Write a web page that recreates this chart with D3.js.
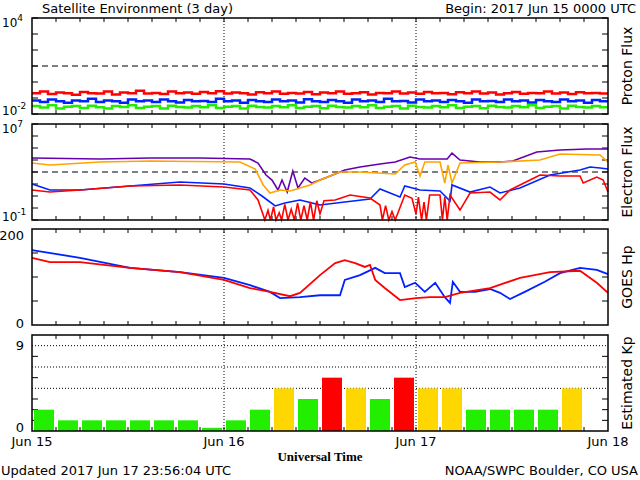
<!DOCTYPE html>
<html><head><meta charset="utf-8">
<script src="https://cdn.jsdelivr.net/npm/d3@7"></script>
<style>body{margin:0;background:#fff}text{font-family:"DejaVu Sans",sans-serif;font-size:13px}</style>
</head><body><svg id="c" width="640" height="480"></svg>
<script>
// proton flux, log10 values, one per hour
const protonRed   = [-0.7,-0.6,-0.75,-0.65,-0.7,-0.8,-0.62,-0.7,-0.72,-0.6,-0.78,-0.66,-0.7,-0.55,-0.72,-0.68,-0.75,-0.6,-0.7,-0.66,-0.74,-0.62,-0.7,-0.58,-0.72,-0.66,-0.7,-0.78,-0.64,-0.7,-0.6,-0.74,-0.68,-0.72,-0.62,-0.76,-0.66,-0.7,-0.6,-0.74,-0.7,-0.64,-0.78,-0.68,-0.7,-0.6,-0.72,-0.66,-0.74,-0.62,-0.7,-0.68,-0.76,-0.64,-0.7,-0.6,-0.72,-0.66,-0.78,-0.7,-0.62,-0.74,-0.68,-0.7,-0.6,-0.72,-0.66,-0.75,-0.64,-0.7,-0.68,-0.72];
const protonBlue  = [-1.15,-1.25,-1.1,-1.2,-1.3,-1.15,-1.2,-1.05,-1.25,-1.15,-1.2,-1.3,-1.1,-1.2,-1.15,-1.25,-1.1,-1.2,-1.28,-1.12,-1.2,-1.18,-1.25,-1.05,-1.2,-1.15,-1.3,-1.12,-1.2,-1.25,-1.1,-1.2,-1.15,-1.28,-1.08,-1.2,-1.25,-1.12,-1.2,-1.3,-1.1,-1.2,-1.15,-1.25,-1.05,-1.2,-1.18,-1.28,-1.1,-1.2,-1.15,-1.25,-1.12,-1.2,-1.3,-1.1,-1.2,-1.18,-1.25,-1.1,-1.2,-1.15,-1.28,-1.12,-1.2,-1.25,-1.1,-1.2,-1.15,-1.3,-1.12,-1.2];
const protonGreen = [-1.5,-1.6,-1.45,-1.65,-1.55,-1.5,-1.62,-1.48,-1.58,-1.66,-1.5,-1.56,-1.45,-1.62,-1.55,-1.5,-1.65,-1.48,-1.56,-1.6,-1.5,-1.58,-1.45,-1.62,-1.55,-1.5,-1.66,-1.48,-1.56,-1.6,-1.5,-1.58,-1.46,-1.62,-1.55,-1.5,-1.64,-1.48,-1.56,-1.6,-1.5,-1.58,-1.45,-1.62,-1.55,-1.5,-1.65,-1.48,-1.56,-1.6,-1.5,-1.58,-1.46,-1.62,-1.55,-1.5,-1.64,-1.48,-1.56,-1.6,-1.5,-1.58,-1.45,-1.62,-1.55,-1.5,-1.65,-1.48,-1.56,-1.6,-1.5,-1.58];

// electron flux, [hour, log10 flux]
const elecPurple = [[0,4.17],[8.5,4.08],[14.75,4.17],[21,4.17],[27.25,4.08],[28.25,3.75],[29.25,2.75],[30,2.33],[30.75,1.5],[31.25,2.33],[31.9,1.33],[32.6,3.08],[33.25,1.67],[34.1,2.5],[35,2.08],[36,2.33],[37.9,2.83],[39.1,3.17],[41,3.42],[43.5,3.67],[45.4,3.83],[47.25,4.25],[48.5,4.08],[51.9,4.08],[52.5,4.58],[53.5,4.0],[56,3.83],[58.5,3.83],[60.1,3.92],[63.1,4.67],[66,4.83],[69.4,4.92],[72,4.92]];
const elecOrange = [[0,3.75],[2.25,3.58],[8.5,3.83],[14.75,3.92],[26,3.83],[27.9,3.25],[28.9,1.92],[29.75,1.25],[31,1.5],[32.25,1.42],[33.5,1.67],[34.75,1.92],[36,2.33],[38.5,3.0],[41,3.0],[45.4,2.83],[46.6,3.58],[47.9,3.83],[48.5,2.67],[49.1,3.83],[51,3.83],[51.6,2.08],[52,3.58],[52.5,2.08],[53.5,3.75],[58.5,3.83],[63.5,4.0],[66,4.5],[71,4.42],[72,3.83]];
const elecBlue = [[0,2.0],[2.25,1.5],[6,1.5],[12.25,1.83],[18.5,2.17],[24,2.0],[27.25,1.67],[28.75,1.0],[30.4,0.17],[31.6,0.42],[33.5,0.67],[36,0.25],[39.1,0.5],[42.25,0.75],[43.5,1.58],[46,0.92],[46.6,1.83],[48.5,1.5],[51,1.42],[52.25,0.58],[52.5,1.92],[54.75,1.33],[57.25,1.75],[58.5,1.25],[61,1.67],[64.75,2.75],[68.5,3.17],[69.75,3.42],[71,3.33],[72,3.25]];
const elecRed = [[0,1.5],[2.25,1.33],[6,1.5],[12.25,1.83],[18.5,1.92],[24,1.75],[27.25,1.5],[28.25,0.67],[28.9,-0.58],[29.1,-1],[29.5,-0.2],[29.8,-1],[30.2,0.1],[30.5,-1],[30.9,-0.4],[31.2,-1],[31.6,0.3],[32,-1],[32.4,-0.1],[32.8,-1],[33.2,0.4],[33.6,-1],[34,0.2],[34.4,-1],[34.8,0.5],[35.2,-1],[35.6,0.6],[36,-0.5],[36.5,0.6],[37.9,0.67],[39.75,1.08],[42.25,0.83],[43.5,0.25],[43.8,-1],[44.2,0.2],[44.6,-1],[45,-0.3],[45.4,-1],[46.6,1.08],[47.5,0.8],[48,-0.5],[48.3,0.9],[48.7,-1],[49,0.5],[49.3,-1],[49.7,1.08],[51,1.08],[51.3,-1],[51.6,0.9],[51.9,-1],[52.25,1.08],[53.5,-0.17],[54.75,1.25],[57.25,1.33],[58.5,0.67],[59.75,1.5],[62.25,2.33],[63.5,2.75],[66,2.67],[68.5,2.67],[68.9,2.08],[70.6,2.58],[71.4,2.33],[72,1.33]];

// GOES Hp, [hour, nT]
const hpBlue = [[0,156],[6,140],[12.25,119],[18.5,110],[24,98],[27.25,83],[29.75,69],[31,56],[33.5,58],[36,62],[38.5,62],[39.1,94],[41,104],[42.9,119],[44.1,108],[46,108],[46.6,79],[47.9,88],[49.1,69],[50.4,88],[51.6,58],[52.25,46],[52.6,90],[53.5,69],[55.4,69],[57.25,75],[58.5,67],[59.75,54],[61.6,69],[64.1,90],[66,108],[68.5,119],[70.6,115],[72,106]];
const hpRed = [[0,140],[2.25,131],[6,131],[12.25,119],[18.5,110],[24,94],[27.25,77],[29.75,69],[32.25,60],[33.5,67],[36,104],[37.9,129],[39.1,135],[40.4,129],[41.6,121],[42.25,125],[42.9,94],[44.1,77],[46,52],[48,56],[49.75,58],[51.6,58],[53.5,67],[57.25,77],[61,98],[64.75,110],[68.5,113],[70.6,88],[72,67]];

// estimated Kp, one bar per 3 hours
const kp = [2,1,1,1,1,1,1,0.3,1,2,4,3,5,4,3,5,4,4,2,2,2,2,4];
const kpColors = kp.map(v => v >= 5 ? "#ff0000" : v >= 4 ? "#ffd700" : "#22ee00");
const dayLabels = ["Jun 15","Jun 16","Jun 17","Jun 18"];

const svg = d3.select("#c");
const x = d3.scaleLinear().domain([0,72]).range([32,608]);

const panels = [
  {top:18, bot:114, dom:[-2,4], ticks:d3.range(-2,5), label:"Proton Flux", lo:"-2", hi:"4", dash:1},
  {top:124, bot:220, dom:[-1,7], ticks:d3.range(-1,8), label:"Electron Flux", lo:"-1", hi:"7", dash:3},
  {top:229, bot:325, dom:[0,200], ticks:[50,100,150], label:"GOES Hp"},
  {top:335, bot:431, dom:[0,9], ticks:[1,2,3,5,7], label:"Estimated Kp", dots:[4,6,8]}
];
panels.forEach(p => { p.y = d3.scaleLinear().domain(p.dom).range([p.bot,p.top]); });

function frame(p) {
  const g = svg.append("g");
  [24,48].forEach(h => g.append("line").attr("x1",x(h)).attr("x2",x(h)).attr("y1",p.top).attr("y2",p.bot)
    .attr("stroke","#000").attr("stroke-dasharray","1,2"));
  if (p.dash !== undefined) g.append("line").attr("x1",32).attr("x2",608).attr("y1",p.y(p.dash)).attr("y2",p.y(p.dash))
    .attr("stroke","#000").attr("stroke-dasharray","6,4");
  (p.dots||[]).forEach(v => g.append("line").attr("x1",32).attr("x2",608).attr("y1",p.y(v)).attr("y2",p.y(v))
    .attr("stroke","#000").attr("stroke-dasharray","1,2"));
  d3.range(3,72,3).forEach(h => {
    g.append("line").attr("x1",x(h)).attr("x2",x(h)).attr("y1",p.top).attr("y2",p.top+4).attr("stroke","#000");
    g.append("line").attr("x1",x(h)).attr("x2",x(h)).attr("y1",p.bot).attr("y2",p.bot-4).attr("stroke","#000");
  });
  p.ticks.forEach(v => {
    g.append("line").attr("x1",32).attr("x2",38).attr("y1",p.y(v)).attr("y2",p.y(v)).attr("stroke","#000");
    g.append("line").attr("x1",602).attr("x2",608).attr("y1",p.y(v)).attr("y2",p.y(v)).attr("stroke","#000");
  });
  g.append("text").attr("transform",`translate(632,${(p.top+p.bot)/2}) rotate(-90)`)
    .attr("text-anchor","middle").style("font-size","14px").text(p.label);
}

function border(p) {
  svg.append("rect").attr("x",32).attr("y",p.top).attr("width",576).attr("height",p.bot-p.top)
    .attr("fill","none").attr("stroke","#000").attr("stroke-width",1.5);
}

function logLabels(p) {
  [[p.lo,p.bot+1],[p.hi,p.top+9]].forEach(([e,yy]) => {
    const t = svg.append("text").attr("x",2).attr("y",yy).style("font-size","12px");
    t.append("tspan").text("10");
    t.append("tspan").attr("dy",-6).style("font-size","9px").text(e);
  });
}

panels.forEach(frame);

const pl = d3.line().x((d,i) => x(i)).y(d => panels[0].y(d)).curve(d3.curveStepAfter);
[[protonGreen,"#22ee00"],[protonBlue,"#0022ff"],[protonRed,"#ff0000"]].forEach(([s,c]) =>
  svg.append("path").attr("d",pl(s.concat([s[s.length-1]]))).attr("fill","none").attr("stroke",c).attr("stroke-width",2.5));

const el = d3.line().x(d => x(d[0])).y(d => panels[1].y(Math.max(-1,d[1])));
[[elecPurple,"#6600aa"],[elecOrange,"#ffa500"],[elecBlue,"#0022ff"],[elecRed,"#ff0000"]].forEach(([s,c]) =>
  svg.append("path").attr("d",el(s)).attr("fill","none").attr("stroke",c).attr("stroke-width",1.6));

const hl = d3.line().x(d => x(d[0])).y(d => panels[2].y(d[1]));
[[hpBlue,"#0022ff"],[hpRed,"#ff0000"]].forEach(([s,c]) =>
  svg.append("path").attr("d",hl(s)).attr("fill","none").attr("stroke",c).attr("stroke-width",1.8));

svg.selectAll("rect.kp").data(kp).enter().append("rect").attr("class","kp")
  .attr("x",(d,i) => x(i*3)+2).attr("width",x(3)-x(0)-4)
  .attr("y",d => panels[3].y(d)).attr("height",d => panels[3].y(0)-panels[3].y(d))
  .attr("fill",(d,i) => kpColors[i]);

panels.forEach(border);
logLabels(panels[0]); logLabels(panels[1]);
svg.append("text").attr("x",24).attr("y",240).attr("text-anchor","end").text("200");
svg.append("text").attr("x",24).attr("y",328).attr("text-anchor","end").text("0");
svg.append("text").attr("x",24).attr("y",350).attr("text-anchor","end").text("9");
svg.append("text").attr("x",24).attr("y",432).attr("text-anchor","end").text("0");

dayLabels.forEach((t,i) => svg.append("text").attr("x",x(i*24)).attr("y",446).attr("text-anchor","middle").text(t));
svg.append("text").attr("x",320).attr("y",461).attr("text-anchor","middle")
  .style("font-family","'Liberation Serif',serif").style("font-weight","bold").text("Universal Time");
svg.append("text").attr("x",42).attr("y",13).text("Satellite Environment (3 day)");
svg.append("text").attr("x",636).attr("y",13).attr("text-anchor","end").text("Begin:  2017 Jun 15 0000 UTC");
svg.append("text").attr("x",1).attr("y",475).text("Updated 2017 Jun 17 23:56:04 UTC");
svg.append("text").attr("x",638).attr("y",475).attr("text-anchor","end").text("NOAA/SWPC Boulder, CO USA");
</script></body></html>
